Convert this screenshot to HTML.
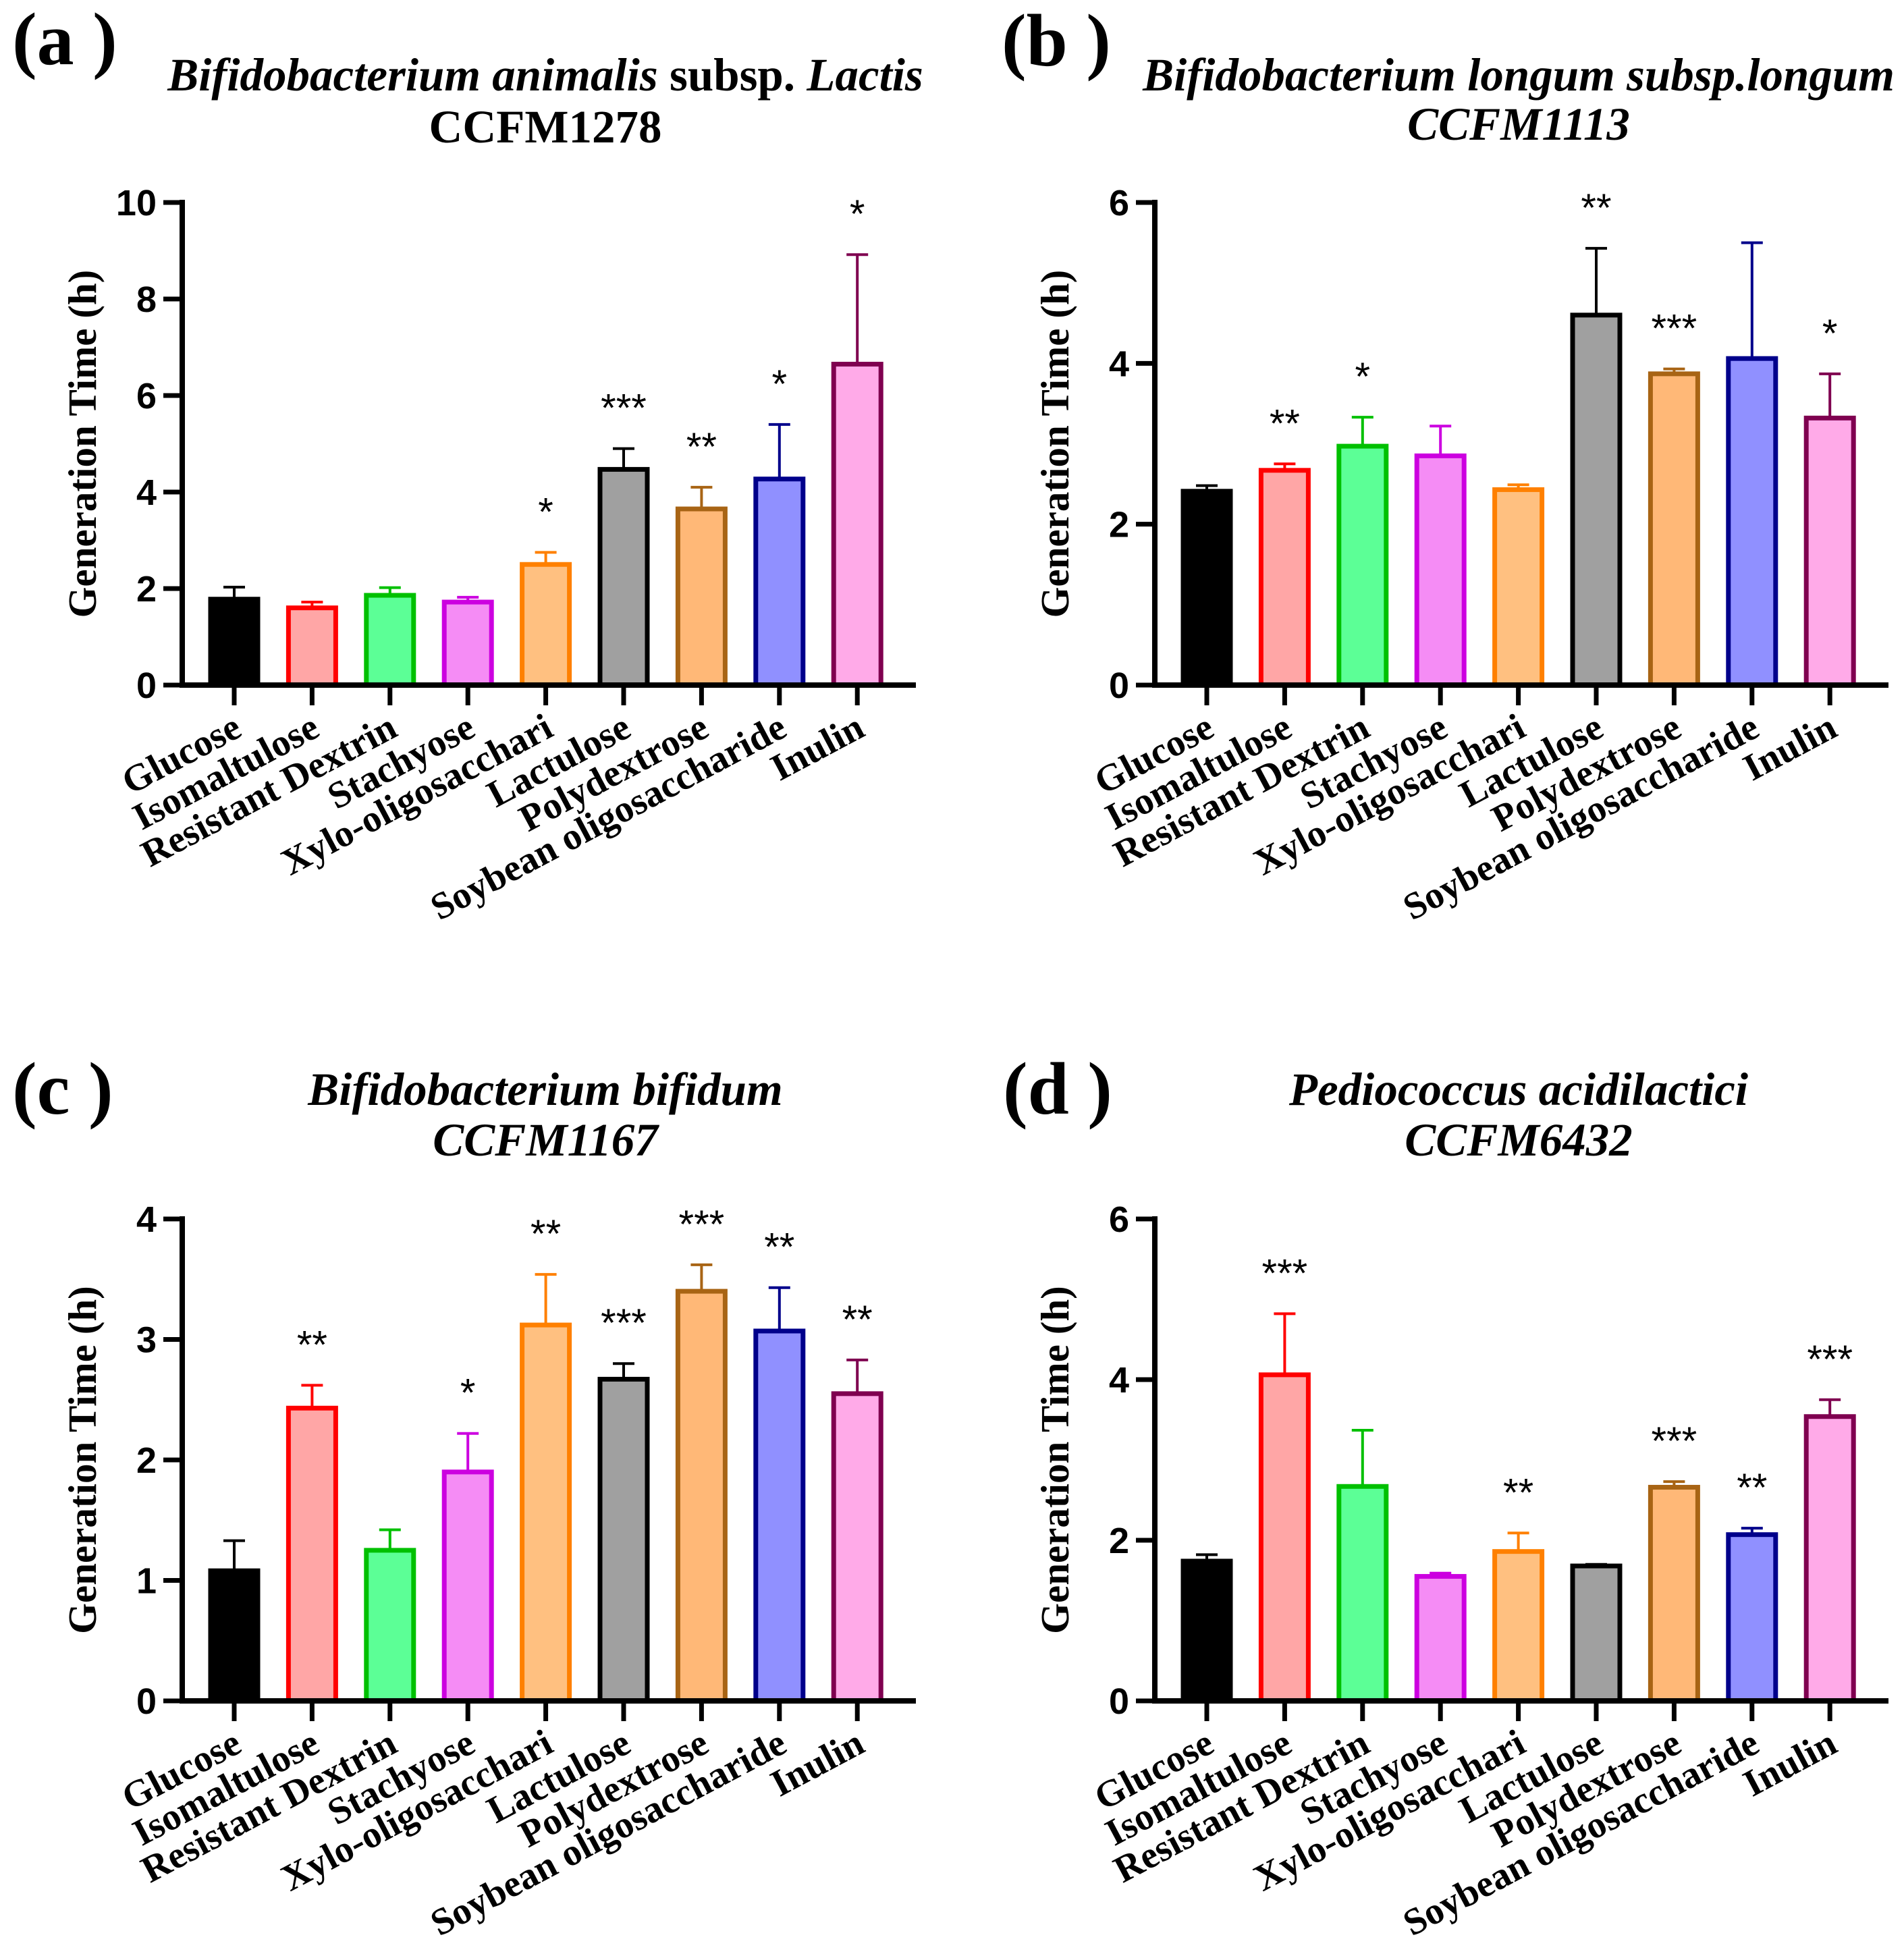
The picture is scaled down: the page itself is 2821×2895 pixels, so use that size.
<!DOCTYPE html>
<html><head><meta charset="utf-8"><style>
html,body{margin:0;padding:0;background:#fff}
svg{display:block}
text{font-family:"Liberation Serif",serif;font-weight:bold}
.num{font-family:"Liberation Sans",sans-serif;font-weight:bold}
</style></head><body>
<svg id="fig" width="2821" height="2895" viewBox="0 0 2821 2895" xmlns="http://www.w3.org/2000/svg"></svg>
<script>
const categories = ["Glucose","Isomaltulose","Resistant Dextrin","Stachyose","Xylo-oligosacchari","Lactulose","Polydextrose","Soybean oligosaccharide","Inulin"];
const fills = ["#000000","#FFA6A6","#5CFF96","#F58CF5","#FFC080","#A0A0A0","#FFB877","#9090FF","#FFAAE8"];
const strokes = ["#000000","#FF0000","#00C000","#CC00E0","#FF8000","#000000","#A86414","#00008B","#7F0050"];

const valuesA = [1.78,1.6,1.86,1.72,2.5,4.47,3.65,4.27,6.65];
const errTopA = [2.03,1.72,2.02,1.82,2.75,4.9,4.1,5.4,8.92];
const starsA = ["","","","","*","***","**","*","*"];
const ticksA = [0,2,4,6,8,10];

const valuesB = [2.41,2.67,2.97,2.85,2.43,4.6,3.87,4.06,3.32];
const errTopB = [2.48,2.75,3.33,3.22,2.49,5.43,3.93,5.5,3.87];
const starsB = ["","**","*","","","**","***","","*"];
const ticksB = [0,2,4,6];

const valuesC = [1.08,2.43,1.25,1.9,3.12,2.67,3.4,3.07,2.55];
const errTopC = [1.33,2.62,1.42,2.22,3.54,2.8,3.62,3.43,2.83];
const starsC = ["","**","","*","**","***","***","**","**"];
const ticksC = [0,1,2,3,4];

const valuesD = [1.74,4.06,2.67,1.55,1.86,1.68,2.66,2.07,3.54];
const errTopD = [1.82,4.82,3.37,1.59,2.09,1.70,2.73,2.15,3.75];
const starsD = ["","***","","","**","","***","**","***"];
const ticksD = [0,2,4,6];

const NS="http://www.w3.org/2000/svg";
const svg=document.getElementById('fig');
function mk(tag,attrs,parent){const e=document.createElementNS(NS,tag);for(const k in attrs)e.setAttribute(k,attrs[k]);(parent||svg).appendChild(e);return e;}

function panel(p){
  const g=mk('g',{});
  
  
  const yMax=p.ticks[p.ticks.length-1];
  const yS=v=>p.y0-(v/yMax)*(p.y0-p.yTop);
  const xS=i=>p.ax+77+i*115.4;
  const lab=mk('text',{x:p.lx,y:p.ly,'font-size':110},g);
  lab.textContent='('+p.id+' )';
  
  
  const t1=mk('text',{x:p.tx,y:p.ty1,'font-size':69,'text-anchor':'middle'},g);
  t1.innerHTML=p.title1;
  
  
  const t2=mk('text',{x:p.tx,y:p.ty2,'font-size':69,'text-anchor':'middle','font-style':p.t2italic?'italic':'normal'},g);
  t2.textContent=p.title2;
  
  
  for(let i=0;i<categories.length;i++){
    const cx=xS(i),v=p.vals[i],e=p.errs[i];
    const eb=mk('line',{x1:cx,x2:cx,y1:yS(v),y2:yS(e),stroke:strokes[i],'stroke-width':4},g);
    
    
    const cap=mk('line',{x1:cx-16,x2:cx+16,y1:yS(e),y2:yS(e),stroke:strokes[i],'stroke-width':4},g);
    
    
    const b=mk('rect',{x:cx-35,y:yS(v),width:70,height:p.y0-yS(v),fill:fills[i],stroke:strokes[i],'stroke-width':7},g);
    
    
    if(p.stars[i]){
      const s=mk('text',{x:cx,y:yS(e)-40,'font-size':58,'text-anchor':'middle',class:'num'},g);
      s.style.fontWeight='normal';
      s.textContent=p.stars[i];
      
      
    }
    const tk=mk('line',{x1:cx,x2:cx,y1:p.y0,y2:p.y0+30,stroke:'#000','stroke-width':7},g);
    
    
    const cl=mk('text',{x:0,y:0,'font-size':56,'text-anchor':'end',transform:`translate(${cx+14},${p.y0+74}) rotate(-28)`},g);
    cl.textContent=categories[i];
    
    
  }
  const yl=mk('line',{x1:p.ax,x2:p.ax,y1:p.yTop-4,y2:p.y0+4,stroke:'#000','stroke-width':8},g);
  
  
  const xl=mk('line',{x1:p.ax-4,x2:p.ax+1087,y1:p.y0,y2:p.y0,stroke:'#000','stroke-width':8},g);
  
  
  for(const tv of p.ticks){
    const yy=yS(tv);
    const tl=mk('line',{x1:p.ax-28,x2:p.ax,y1:yy,y2:yy,stroke:'#000','stroke-width':7},g);
    
    
    const tt=mk('text',{x:p.ax-38,y:yy+19,'font-size':54,'text-anchor':'end',class:'num'},g);
    tt.textContent=tv;
    
    
  }
  const at=mk('text',{x:0,y:0,'font-size':59,'text-anchor':'middle',transform:`translate(${p.ax-128},${(p.y0+p.yTop)/2}) rotate(-90)`},g);
  at.textContent='Generation Time (h)';
  
  
}

panel({id:'a',ax:270,y0:1015,yTop:300,lx:18,ly:95,tx:808,ty1:134,ty2:211,
  title1:'<tspan font-style="italic">Bifidobacterium animalis</tspan> subsp. <tspan font-style="italic">Lactis</tspan>',
  title2:'CCFM1278',t2italic:false,vals:valuesA,errs:errTopA,stars:starsA,ticks:ticksA});
panel({id:'b',ax:1711,y0:1015,yTop:300,lx:1484,ly:97,tx:2250,ty1:134,ty2:207,
  title1:'<tspan font-style="italic">Bifidobacterium longum subsp.longum</tspan>',
  title2:'CCFM1113',t2italic:true,vals:valuesB,errs:errTopB,stars:starsB,ticks:ticksB});
panel({id:'c',ax:270,y0:2520,yTop:1806,lx:18,ly:1650,tx:808,ty1:1637,ty2:1712,
  title1:'<tspan font-style="italic">Bifidobacterium bifidum</tspan>',
  title2:'CCFM1167',t2italic:true,vals:valuesC,errs:errTopC,stars:starsC,ticks:ticksC});
panel({id:'d',ax:1711,y0:2520,yTop:1806,lx:1486,ly:1650,tx:2250,ty1:1637,ty2:1712,
  title1:'<tspan font-style="italic">Pediococcus acidilactici</tspan>',
  title2:'CCFM6432',t2italic:true,vals:valuesD,errs:errTopD,stars:starsD,ticks:ticksD});
</script>
</body></html>
